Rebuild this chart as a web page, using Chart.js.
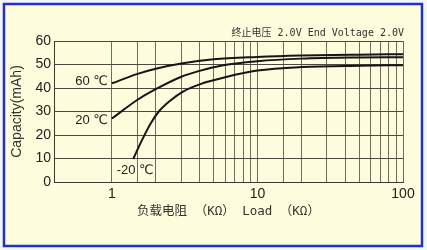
<!DOCTYPE html>
<html>
<head>
<meta charset="utf-8">
<script src="https://cdn.jsdelivr.net/npm/chart.js@4.4.1/dist/chart.umd.min.js"></script>
<style>
html,body{margin:0;padding:0;background:#fff;}
#wrap{width:427px;height:250px;position:relative;}
</style>
</head>
<body>
<div id="wrap"><canvas id="c" width="427" height="250"></canvas></div>
<script>
// ---- data ----
const load60 = [1, 1.5, 2, 3, 5, 10, 20, 50, 100];
const cap60  = [42, 46, 48.2, 50.4, 52.2, 53.2, 53.8, 54.2, 54.4];
const load20 = [1, 1.5, 2, 3, 4, 5.6, 10, 20, 50, 100];
const cap20  = [27, 35, 39.5, 44.8, 47.3, 49.5, 51.4, 52.5, 53.0, 53.1];
const loadM20 = [1.4, 1.6, 1.85, 2.1, 2.5, 3.1, 4.2, 6, 10, 20, 50, 100];
const capM20  = [9.8, 17.5, 25, 30, 34.5, 38.6, 42, 44.6, 47.4, 48.9, 49.5, 49.7];
const seriesLabels = ['60 \u2103', '20 \u2103', '-20 \u2103'];
const xTickLabels = [1, 10, 100];
const yTicks = [0, 10, 20, 30, 40, 50, 60];
const yTitle = 'Capacity(mAh)';
const xTitle = '负载电阻 （KΩ） Load （KΩ）';
const note = '终止电压 2.0V End Voltage 2.0V';

const toXY = (xs, ys) => xs.map((x, i) => ({x: x, y: ys[i]}));

const framePlugin = {
  id: 'frame',
  beforeDraw(chart) {
    const ctx = chart.ctx;
    ctx.save();
    ctx.fillStyle = '#f4f6fb';
    ctx.fillRect(0, 0, 427, 250);
    ctx.fillStyle = '#fdfcdc';
    ctx.fillRect(4, 4, 418, 242);
    ctx.strokeStyle = '#1f2fd0';
    ctx.lineWidth = 2.5;
    ctx.strokeRect(4, 4, 418, 242);
    ctx.restore();
  },
  afterDraw(chart) {
    const ctx = chart.ctx;
    const xs = chart.scales.x, ys = chart.scales.y;
    ctx.save();
    ctx.fillStyle = '#222';
    ctx.font = '13px "Liberation Sans", Arial, "DejaVu Sans", sans-serif';
    ctx.textBaseline = 'middle';
    // labels near start of each curve
    const d = chart.data.datasets;
    let p = d[0].data[0];
    ctx.textAlign = 'right';
    ctx.fillText(seriesLabels[0], xs.getPixelForValue(p.x) - 4, ys.getPixelForValue(p.y) - 2);
    p = d[1].data[0];
    ctx.fillText(seriesLabels[1], xs.getPixelForValue(p.x) - 4, ys.getPixelForValue(p.y) + 2);
    p = d[2].data[0];
    ctx.textAlign = 'center';
    ctx.fillText(seriesLabels[2], xs.getPixelForValue(p.x) + 2, ys.getPixelForValue(p.y) + 11);
    // note top right
    ctx.font = '10px "DejaVu Sans Mono", "Noto Sans CJK SC", monospace';
    ctx.textAlign = 'right';
    ctx.fillStyle = '#333';
    ctx.fillText(note, chart.chartArea.right + 1, 33);
    ctx.restore();
  }
};

const lineStyle = {borderColor: '#151515', borderWidth: 2, pointRadius: 0, fill: false, cubicInterpolationMode: 'monotone'};

new Chart(document.getElementById('c'), {
  type: 'line',
  data: {
    datasets: [
      Object.assign({label: seriesLabels[0], data: toXY(load60, cap60)}, lineStyle),
      Object.assign({label: seriesLabels[1], data: toXY(load20, cap20)}, lineStyle),
      Object.assign({label: seriesLabels[2], data: toXY(loadM20, capM20)}, lineStyle)
    ]
  },
  options: {
    responsive: false,
    animation: false,
    devicePixelRatio: 1,
    layout: {padding: {left: 0, right: 24, top: 41, bottom: 0}},
    plugins: {legend: {display: false}, tooltip: {enabled: false}},
    scales: {
      x: {
        type: 'logarithmic',
        min: 0.4, max: 100,
        afterFit(s) { s.height = 68; },
        border: {display: true, color: '#3a3a30', width: 1},
        grid: {
          drawTicks: false,
          lineWidth: 1,
          color: (c) => (c.tick && c.tick.value < 0.99) ? 'rgba(0,0,0,0)' : '#6e6e60'
        },
        ticks: {
          autoSkip: false, maxRotation: 0, padding: 4,
          color: '#222',
          font: {family: '"Liberation Sans", Arial, sans-serif', size: 14},
          callback: (v) => xTickLabels.includes(Math.round(v * 1000) / 1000) ? String(Math.round(v)) : ''
        },
        title: {
          display: true, text: xTitle, color: '#333',
          font: {family: '"DejaVu Sans Mono", "Noto Sans CJK SC", monospace', size: 12.5},
          padding: {top: 0, bottom: 31}
        }
      },
      y: {
        min: 0, max: 60,
        afterFit(s) { s.width = 54; },
        afterBuildTicks(s) { s.ticks = yTicks.map(v => ({value: v})); },
        border: {display: true, color: '#3a3a30', width: 1},
        grid: {drawTicks: false, color: '#4a4a40', lineWidth: 1},
        ticks: {
          padding: 3, color: '#222',
          font: {family: '"Liberation Sans", Arial, sans-serif', size: 14}
        },
        title: {
          display: true, text: yTitle, color: '#333',
          font: {family: '"Liberation Sans", Arial, sans-serif', size: 14},
          padding: {top: 9, bottom: 0}
        }
      }
    }
  },
  plugins: [framePlugin]
});
</script>
</body>
</html>
